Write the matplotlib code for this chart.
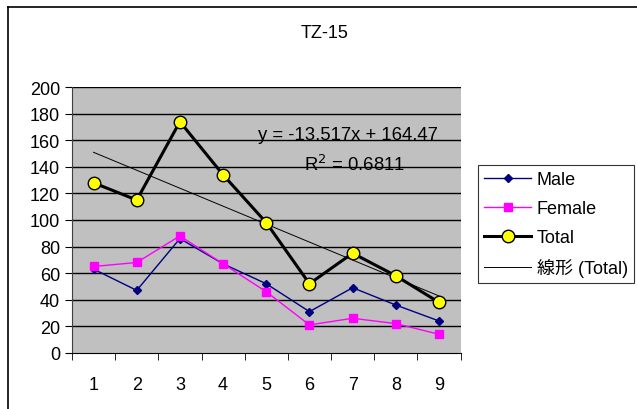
import matplotlib
matplotlib.use("Agg")
import matplotlib.pyplot as plt
from matplotlib.lines import Line2D
import numpy as np

x = [1, 2, 3, 4, 5, 6, 7, 8, 9]
male = [63, 47, 86, 67, 52, 31, 49, 36, 24]
female = [65, 68, 88, 67, 46, 21, 26, 22, 14]
total = [128, 115, 174, 134, 98, 52, 75, 58, 38]
slope, intercept = -13.517, 164.47

plt.rcParams["font.family"] = ["Liberation Sans", "Noto Sans CJK JP", "DejaVu Sans"]

fig = plt.figure(figsize=(6.37, 4.10), dpi=100)
# chart frame: only the top and left edges fall inside the picture
fx, fy = 7.5 / 637, 1 - 8 / 410
fig.lines.append(Line2D([fx, 1], [fy, fy], transform=fig.transFigure, color="black", lw=1.2))
fig.lines.append(Line2D([fx, fx], [0, fy], transform=fig.transFigure, color="black", lw=1.2))

ax = fig.add_axes([0.113, 0.137, 0.61, 0.648])
ax.set_facecolor("#c0c0c0")

for y in range(20, 201, 20):
    ax.axhline(y, color="black", lw=1, zorder=1)

ax.plot(x, male, color="#000080", lw=1, marker="D", ms=4, mfc="#000080", mec="#000080",
        label="Male", zorder=3)
ax.plot(x, female, color="#ff00ff", lw=1, marker="s", ms=6, mfc="#ff00ff", mec="#ff00ff",
        label="Female", zorder=3)
ax.plot(x, total, color="black", lw=2.2, marker="o", ms=9, mfc="#ffff00", mec="black", mew=1,
        label="Total", zorder=4)
xt = np.array([1, 9])
ax.plot(xt, slope * xt + intercept, color="black", lw=0.7, label="線形 (Total)", zorder=2)

ax.text(6.9, 164, "y = -13.517x + 164.47", ha="center", va="center", fontsize=13.3)
ax.text(7.04, 142, "R$^2$ = 0.6811", ha="center", va="center", fontsize=13.3)

ax.set_xlim(0.5, 9.5)
ax.set_ylim(0, 200)
ax.set_yticks(range(0, 201, 20))
ax.set_xticks(x)
ax.set_xticks(np.arange(0.5, 9.6, 1), minor=True)
ax.tick_params(axis="x", which="major", length=0, labelsize=13, pad=17)
ax.tick_params(axis="x", which="minor", length=5, direction="out")
ax.tick_params(axis="y", length=5, direction="out", labelsize=13)
for s in ["top", "right"]:
    ax.spines[s].set_visible(False)
ax.spines["left"].set_color("#404040")
ax.spines["bottom"].set_color("black")

fig.text(0.51, 1 - 33 / 410, "TZ-15", ha="center", va="center", fontsize=13)

leg = fig.legend(loc="upper left", bbox_to_anchor=(478 / 637, 1 - 166 / 410), fontsize=13,
                 frameon=True, fancybox=False, edgecolor="black", handlelength=2.6,
                 borderpad=0.35, labelspacing=0.66, handletextpad=0.3, borderaxespad=0)
leg.get_frame().set_linewidth(0.8)

fig.savefig("out.png", dpi=100)
